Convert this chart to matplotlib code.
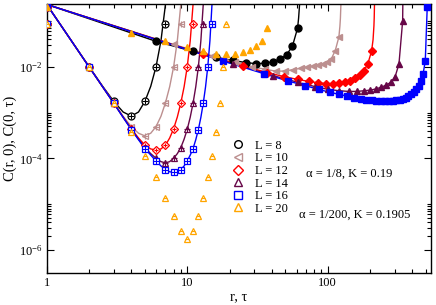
import matplotlib
matplotlib.use('Agg')
import matplotlib.pyplot as plt
from matplotlib.lines import Line2D
from matplotlib.ticker import FixedLocator, NullFormatter, LogFormatterSciNotation, FixedFormatter

plt.rcParams['font.family'] = ['Liberation Serif', 'DejaVu Serif']
plt.rcParams['mathtext.fontset'] = 'stix'

# lattice sizes and styles
sizes = [8, 10, 12, 14, 16]
colors = ['black', '#bc8f8f', 'red', '#670748', 'blue']
markers = ['o', '<', 'D', '^', 's']
orange = '#ffa500'

# ---- C(r, 0) data, r = 1 .. L-1
r_8 = [1, 2, 3, 4, 5, 6, 7]
cr_8 = [0.088, 0.0100, 0.00175, 0.00084, 0.00175, 0.0100, 0.088]
r_10 = [1, 2, 3, 4, 5, 6, 7, 8, 9]
cr_10 = [0.088, 0.0100, 0.00164, 0.00049, 0.00031, 0.00049, 0.00164, 0.0100, 0.088]
r_12 = [1, 2, 3, 4, 5, 6, 7, 8, 9, 10, 11]
cr_12 = [0.088, 0.0100, 0.00162, 0.000445, 0.000195, 0.000150, 0.000195, 0.000445, 0.00162, 0.0100, 0.088]
r_14 = [1, 2, 3, 4, 5, 6, 7, 8, 9, 10, 11, 12, 13]
cr_14 = [0.088, 0.0100, 0.00161, 0.000432, 0.000172, 0.000101, 0.000080, 0.000101, 0.000172,
         0.000432, 0.00161, 0.0100, 0.088]
r_16 = [1, 2, 3, 4, 5, 6, 7, 8, 9, 10, 11, 12, 13, 14, 15]
cr_16 = [0.088, 0.0100, 0.00160, 0.000427, 0.000164, 0.000088, 0.000057, 0.000050, 0.000057,
         0.000088, 0.000164, 0.000427, 0.00160, 0.0100, 0.088]
r_20 = [1, 2, 3, 4, 5, 6, 7, 8, 9, 10, 11, 12, 13, 14, 15, 16, 17, 18, 19]
cr_20 = [0.088, 0.0100, 0.00165, 0.00038, 0.000115, 0.000039, 0.000014, 0.0000056, 0.0000026,
         0.00000174, 0.0000026, 0.0000056, 0.000014, 0.000039, 0.000115, 0.00038, 0.00165, 0.0100, 0.088]

# ---- fitted curves in r
rf_8 = [1, 1.5, 2, 2.5, 3, 3.5, 4, 4.5, 5, 5.5, 6, 6.5, 7, 7.1]
cf_8 = [0.23, 0.0368, 0.0101, 0.00376, 0.00176, 0.00103, 0.00084, 0.00103, 0.00176, 0.00376,
        0.0101, 0.0368, 0.23, 0.37]
rf_10 = [1, 1.5, 2, 2.5, 3, 3.5, 4, 4.5, 5, 5.5, 6, 6.5, 7, 7.5, 8, 8.5, 9, 9.1]
cf_10 = [0.23, 0.0368, 0.0100, 0.00368, 0.00164, 0.00083, 0.000496, 0.000355, 0.00031, 0.000355,
         0.000496, 0.00083, 0.00164, 0.00368, 0.0100, 0.0368, 0.23, 0.37]
rf_12 = [1, 1.5, 2, 2.5, 3, 3.5, 4, 4.5, 5, 5.5, 6, 6.5, 7, 7.5, 8, 8.5, 9, 9.5, 10, 10.5, 11, 11.1]
cf_12 = [0.23, 0.0368, 0.0100, 0.00366, 0.00162, 0.00080, 0.000445, 0.000279, 0.000195, 0.000161,
         0.000152, 0.000161, 0.000195, 0.000279, 0.000445, 0.00080, 0.00162, 0.00366, 0.0100,
         0.0368, 0.23, 0.37]
rf_14 = [1, 1.5, 2, 2.5, 3, 3.5, 4, 4.5, 5, 5.5, 6, 6.5, 7, 7.5, 8, 8.5, 9, 9.5, 10, 10.5, 11,
         11.5, 12, 12.5, 13, 13.1]
cf_14 = [0.23, 0.0368, 0.0100, 0.00366, 0.00161, 0.00079, 0.000432, 0.000263, 0.000172, 0.000127,
         0.000101, 0.000085, 0.000080, 0.000085, 0.000101, 0.000127, 0.000172, 0.000263, 0.000432,
         0.00079, 0.00161, 0.00366, 0.0100, 0.0368, 0.23, 0.37]
rf_16 = [1, 1.5, 2, 2.5, 3, 3.5, 4, 4.5, 5, 5.5, 6, 6.5, 7, 7.5, 8, 8.5, 9, 9.5, 10, 10.5, 11,
         11.5, 12, 12.5, 13, 13.5, 14, 14.5, 15, 15.1]
cf_16 = [0.23, 0.0368, 0.0100, 0.00366, 0.00160, 0.000785, 0.000427, 0.000256, 0.000164, 0.000118,
         0.000088, 0.0000685, 0.000057, 0.000051, 0.000050, 0.000051, 0.000057, 0.0000685, 0.000088,
         0.000118, 0.000164, 0.000256, 0.000427, 0.000785, 0.00160, 0.00366, 0.0100, 0.0368, 0.23, 0.37]

# ---- C(0, tau) data
t_8 = [1, 6, 11, 16, 21, 26, 31, 36, 41, 46, 51, 56, 61]
ct_8 = [0.20, 0.036, 0.0217, 0.016, 0.0138, 0.0124, 0.0117, 0.0120, 0.0130, 0.0148, 0.0185, 0.028, 0.070]
t_10 = [1, 8, 15, 22, 29, 36, 43, 50, 57, 64, 71, 78, 85, 92, 99, 106, 113, 120]
ct_10 = [0.20, 0.0307, 0.0174, 0.0127, 0.0100, 0.0088, 0.0080, 0.0081, 0.0087, 0.0093, 0.0099,
         0.0103, 0.0107, 0.0115, 0.0128, 0.0150, 0.0225, 0.045]
t_12 = [1, 13, 25, 37, 49, 61, 73, 85, 97, 109, 121, 133, 145, 157, 169, 181, 193, 205]
ct_12 = [0.20, 0.0188, 0.0104, 0.0075, 0.0061, 0.0053, 0.0048, 0.0045, 0.0043, 0.0043, 0.0044,
         0.0046, 0.0050, 0.0056, 0.0066, 0.0082, 0.0118, 0.0220]
t_14 = [1, 21, 41, 61, 81, 101, 121, 141, 161, 181, 201, 221, 241, 261, 281, 301, 321, 341]
ct_14 = [0.20, 0.0117, 0.0064, 0.0046, 0.0037, 0.0032, 0.0030, 0.0029, 0.0029, 0.0030, 0.0031,
         0.0033, 0.0036, 0.0040, 0.0046, 0.0060, 0.0115, 0.10]
t_16 = [1, 18, 35, 52, 69, 86, 103, 120, 137, 154, 171, 188, 205, 222, 239, 256, 273, 290, 307,
        324, 341, 358, 375, 392, 409, 426, 443, 460, 477, 494, 511]
ct_16 = [0.20, 0.0133, 0.0071, 0.0049, 0.0039, 0.0032, 0.0028, 0.0025, 0.0023, 0.0021, 0.0020,
         0.0019, 0.0019, 0.0018, 0.0018, 0.0018, 0.0018, 0.0018, 0.0019, 0.0019, 0.0020, 0.0021,
         0.0023, 0.0025, 0.0028, 0.0032, 0.0039, 0.0049, 0.0071, 0.0133, 0.20]
t_20 = [1, 4, 7, 10, 13, 16, 19, 22, 25, 28, 31, 34, 37]
ct_20 = [0.20, 0.055, 0.036, 0.027, 0.0225, 0.019, 0.0187, 0.0195, 0.0215, 0.0236, 0.028, 0.037, 0.071]

# ---- fitted curves in tau (end points run off the top)
tf_8 = t_8 + [62, 63, 63.6]
cft_8 = [0.23] + ct_8[1:] + [0.115, 0.23, 0.6]
tf_10 = t_10 + [122, 123, 124, 124.6]
cft_10 = [0.23] + ct_10[1:] + [0.077, 0.115, 0.23, 0.6]
tf_12 = t_12 + [210, 213, 214, 215, 215.6]
cft_12 = [0.23] + ct_12[1:] + [0.039, 0.078, 0.116, 0.231, 0.6]
tf_14 = t_14 + [342, 342.6]
cft_14 = [0.23] + ct_14[1:] + [0.23, 0.6]
tf_16 = t_16 + [511.6]
cft_16 = [0.23] + ct_16[1:-1] + [0.23, 0.6]

r_data = [(r_8, cr_8), (r_10, cr_10), (r_12, cr_12), (r_14, cr_14), (r_16, cr_16)]
r_fits = [(rf_8, cf_8), (rf_10, cf_10), (rf_12, cf_12), (rf_14, cf_14), (rf_16, cf_16)]
t_data = [(t_8, ct_8), (t_10, ct_10), (t_12, ct_12), (t_14, ct_14), (t_16, ct_16)]
t_fits = [(tf_8, cft_8), (tf_10, cft_10), (tf_12, cft_12), (tf_14, cft_14), (tf_16, cft_16)]

fig = plt.figure(figsize=(4.36, 3.05), dpi=100)
ax = fig.add_axes([46.7 / 436, 1 - 272.7 / 305, 384 / 436, 268.7 / 305])
ax.set_xscale('log')
ax.set_yscale('log')

ms = 5.0
for i in range(len(sizes)):
    c = colors[i]
    m = markers[i]
    msz = ms - 0.8 if m == 'D' else ms
    ax.plot(r_fits[i][0], r_fits[i][1], '-', color=c, lw=1.0, zorder=2)
    ax.plot(t_fits[i][0], t_fits[i][1], '-', color=c, lw=1.0, zorder=2)
    ax.plot(t_data[i][0], t_data[i][1], ls='none', marker=m, ms=msz, color=c, mec=c, zorder=3)
    ax.plot(r_data[i][0], r_data[i][1], ls='none', marker=m, ms=msz, mfc='white', mec=c, mew=0.9, zorder=3)
    ax.plot(r_data[i][0], r_data[i][1], ls='none', marker='+', ms=msz - 1, mec=c, mew=0.8, zorder=3)

ax.plot(t_20, ct_20, ls='none', marker='^', ms=ms, color=orange, zorder=4)
ax.plot(r_20, cr_20, ls='none', marker='^', ms=ms, mfc='white', mec=orange, mew=0.9, zorder=4)
ax.plot(r_20, cr_20, ls='none', marker='_', ms=ms - 2.5, mec=orange, mew=0.8, zorder=4)

ax.set_xlim(1, 540)
ax.set_ylim(3.2e-7, 0.235)

ax.xaxis.set_major_locator(FixedLocator([1, 10, 100]))
ax.xaxis.set_major_formatter(FixedFormatter(['1', '10', '100']))
ax.xaxis.set_minor_locator(FixedLocator([m * 10.0 ** e for e in (0, 1, 2) for m in range(2, 10)]))
ax.xaxis.set_minor_formatter(NullFormatter())
ax.yaxis.set_major_locator(FixedLocator([1e-6, 1e-4, 1e-2]))
ax.yaxis.set_major_formatter(LogFormatterSciNotation())
ax.yaxis.set_minor_locator(FixedLocator([m * 10.0 ** e for e in (-6, -4, -2) for m in range(2, 11)]))
ax.yaxis.set_minor_formatter(NullFormatter())

ax.tick_params(which='both', direction='in', top=True, right=True, labelsize=9, width=0.8)
ax.tick_params(which='major', length=5, pad=3)
ax.tick_params(which='minor', length=3)
for s in ax.spines.values():
    s.set_linewidth(1.0)

ax.set_xlabel('r, τ', fontsize=10.5, labelpad=1)
ax.set_ylabel('C(r, 0), C(0, τ)', fontsize=10.5)
ax.yaxis.set_label_coords(-0.078, 0.5)

handles = [Line2D([], [], ls='none', marker=mk, ms=5.5, mfc='none', mec=c, mew=1.0)
           for mk, c in zip(markers + ['^'], colors + [orange])]
labels = ['L = %d' % L for L in sizes + [20]]
ax.legend(handles, labels, loc='upper left', bbox_to_anchor=(0.4826, 0.495), frameon=False,
          fontsize=9, handlelength=1.0, handletextpad=0.8, labelspacing=0.05, borderpad=0,
          borderaxespad=0)

ax.text(0.675, 0.367, 'α = 1/8, K = 0.19', transform=ax.transAxes, va='center', fontsize=9)
ax.text(0.657, 0.215, 'α = 1/200, K = 0.1905', transform=ax.transAxes, va='center', fontsize=9)

fig.savefig('out.png', dpi=100)
